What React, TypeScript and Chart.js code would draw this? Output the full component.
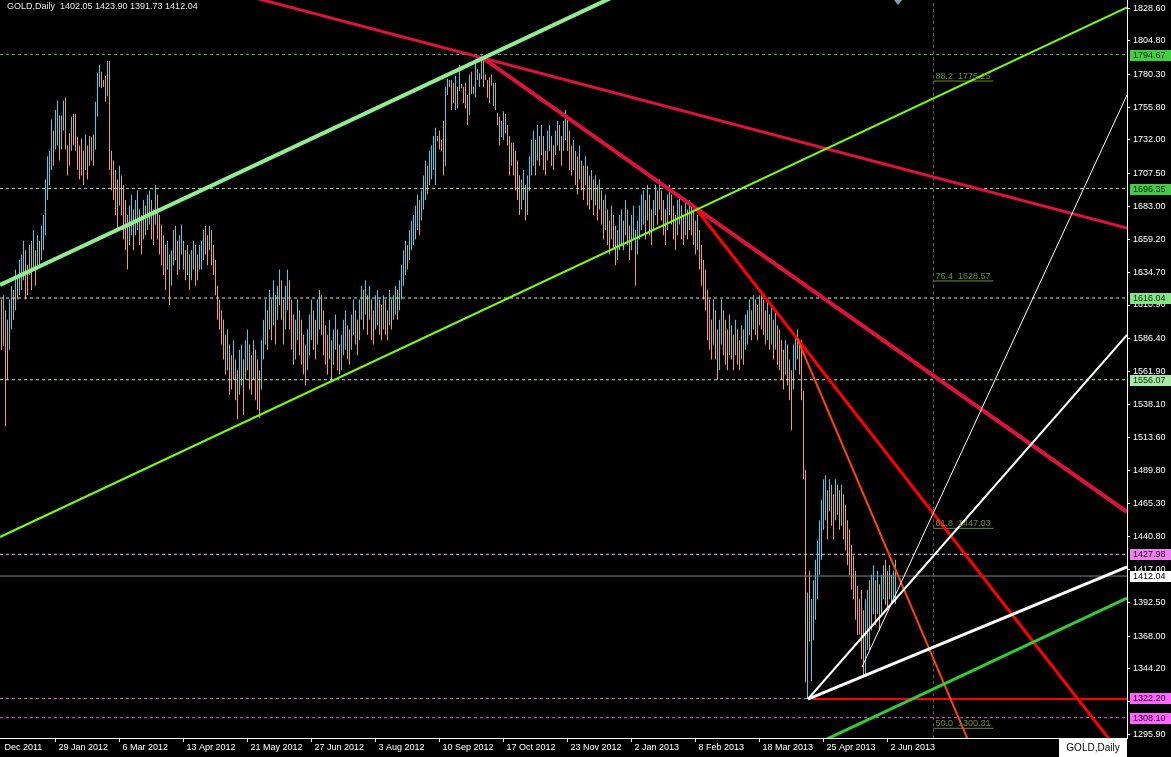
import React, { useEffect, useRef } from 'react';
import { Chart, registerables } from 'chart.js';

Chart.register(...registerables);

// ---------- DATA ----------
const symbolTitle = 'GOLD,Daily';
const lastOHLC = [1402.05, 1423.9, 1391.73, 1412.04];

// daily bar highs (one per bar, left to right)
const barHighs = [
  1615, 1618, 1607, 1600, 1615, 1625, 1622, 1637, 1633, 1644,
  1648, 1658, 1651, 1640, 1655, 1658, 1666, 1651, 1662, 1658,
  1669, 1677, 1703, 1720, 1724, 1747, 1739, 1754, 1761, 1750,
  1750, 1761, 1763, 1728, 1737, 1749, 1751, 1751, 1734, 1728,
  1733, 1724, 1736, 1728, 1735, 1734, 1736, 1760, 1781, 1787,
  1782, 1776, 1779, 1790, 1790, 1724, 1717, 1710, 1703, 1713,
  1706, 1699, 1688, 1677, 1684, 1692, 1681, 1688, 1695, 1681,
  1677, 1688, 1684, 1692, 1695, 1688, 1681, 1699, 1692, 1677,
  1670, 1662, 1655, 1658, 1648, 1651, 1666, 1669, 1658, 1662,
  1670, 1658, 1651, 1655, 1648, 1651, 1658, 1655, 1648, 1655,
  1658, 1666, 1669, 1662, 1669, 1666, 1655, 1644, 1625, 1615,
  1607, 1600, 1589, 1593, 1582, 1574, 1585, 1571, 1563, 1578,
  1582, 1571, 1585, 1593, 1582, 1574, 1585, 1578, 1571, 1563,
  1585, 1600, 1615, 1607, 1622, 1615, 1629, 1618, 1625, 1637,
  1629, 1615, 1625, 1637, 1629, 1615, 1604, 1600, 1615, 1607,
  1600, 1589, 1582, 1593, 1604, 1615, 1607, 1600, 1615, 1622,
  1618, 1607, 1596, 1589, 1600, 1585, 1593, 1604, 1593, 1582,
  1589, 1600, 1607, 1596, 1593, 1604, 1615, 1607, 1600, 1615,
  1625, 1622, 1629, 1618, 1625, 1615, 1607, 1618, 1622, 1615,
  1611, 1618, 1615, 1607, 1622, 1615, 1618, 1625, 1622, 1629,
  1640, 1651, 1658, 1655, 1666, 1673, 1677, 1684, 1692, 1688,
  1695, 1706, 1717, 1713, 1724, 1728, 1735, 1741, 1735, 1739,
  1732, 1746, 1771, 1777, 1776, 1776, 1774, 1779, 1771, 1787,
  1773, 1771, 1774, 1765, 1780, 1782, 1771, 1791, 1784, 1781,
  1794, 1791, 1780, 1776, 1778, 1780, 1774, 1774, 1752, 1749,
  1746, 1753, 1751, 1743, 1735, 1730, 1730, 1724, 1717, 1706,
  1703, 1710, 1699, 1706, 1720, 1732, 1739, 1732, 1743, 1735,
  1743, 1735, 1724, 1739, 1743, 1735, 1728, 1739, 1746, 1743,
  1735, 1746, 1754, 1750, 1739, 1728, 1732, 1724, 1720, 1728,
  1717, 1713, 1720, 1713, 1706, 1710, 1703, 1706, 1699, 1703,
  1695, 1688, 1692, 1681, 1673, 1684, 1677, 1669, 1666, 1677,
  1681, 1673, 1688, 1681, 1669, 1677, 1684, 1666, 1673, 1684,
  1692, 1695, 1688, 1699, 1692, 1681, 1688, 1699, 1695, 1703,
  1695, 1688, 1681, 1692, 1699, 1692, 1684, 1677, 1688, 1692,
  1684, 1677, 1688, 1681, 1688, 1684, 1681, 1673, 1677, 1666,
  1655, 1644, 1637, 1622, 1615, 1600, 1615, 1607, 1593, 1600,
  1615, 1607, 1600, 1593, 1604, 1596, 1589, 1600, 1593, 1585,
  1596, 1593, 1604, 1607, 1615, 1607, 1618, 1615, 1611, 1618,
  1618, 1615, 1607, 1615, 1604, 1611, 1600, 1607, 1596, 1593,
  1585, 1578, 1585, 1582, 1571, 1563, 1582, 1589, 1593, 1585,
  1585, 1548, 1490, 1400, 1416, 1395, 1409, 1424, 1438, 1453,
  1468, 1483, 1486, 1475, 1483, 1479, 1472, 1483, 1479, 1475,
  1479, 1472, 1464, 1453, 1446, 1435, 1427, 1416, 1405, 1395,
  1402, 1387, 1395, 1402, 1409, 1413, 1420, 1409, 1416, 1406,
  1413, 1420, 1424, 1416, 1420, 1413, 1416, 1423.9,
];

// daily bar lows
const barLows = [
  1578, 1581, 1522, 1556, 1578, 1593, 1600, 1607, 1615, 1618,
  1622, 1629, 1615, 1618, 1633, 1622, 1637, 1625, 1637, 1640,
  1644, 1651, 1662, 1688, 1699, 1710, 1713, 1725, 1728, 1717,
  1725, 1739, 1725, 1706, 1713, 1724, 1728, 1724, 1710, 1703,
  1706, 1699, 1710, 1703, 1713, 1717, 1713, 1725, 1749, 1771,
  1770, 1771, 1760, 1764, 1710, 1695, 1688, 1677, 1666, 1684,
  1677, 1659, 1651, 1637, 1655, 1662, 1651, 1662, 1666, 1655,
  1648, 1659, 1662, 1666, 1670, 1659, 1655, 1670, 1659, 1648,
  1640, 1633, 1622, 1637, 1611, 1625, 1640, 1644, 1633, 1637,
  1648, 1637, 1629, 1633, 1622, 1629, 1637, 1625, 1629, 1637,
  1637, 1644, 1648, 1640, 1651, 1640, 1633, 1618, 1600, 1593,
  1582, 1571, 1560, 1563, 1545, 1549, 1556, 1541, 1527, 1545,
  1552, 1530, 1556, 1563, 1549, 1545, 1556, 1541, 1534, 1528,
  1549, 1571, 1582, 1578, 1593, 1585, 1596, 1582, 1600, 1611,
  1600, 1582, 1593, 1607, 1593, 1578, 1567, 1571, 1585, 1574,
  1567, 1560, 1552, 1563, 1574, 1585, 1578, 1571, 1582, 1593,
  1589, 1574, 1567, 1560, 1571, 1556, 1567, 1578, 1563, 1560,
  1563, 1574, 1578, 1571, 1567, 1578, 1589, 1582, 1574, 1585,
  1600, 1593, 1604, 1589, 1600, 1585, 1582, 1593, 1596, 1589,
  1585, 1593, 1589, 1585, 1596, 1593, 1600, 1604, 1600, 1607,
  1615, 1625, 1633, 1637, 1644, 1651, 1655, 1659, 1666, 1662,
  1673, 1681, 1688, 1692, 1699, 1703, 1710, 1699, 1731, 1725,
  1724, 1706, 1713, 1765, 1771, 1754, 1759, 1754, 1755, 1768,
  1770, 1759, 1755, 1743, 1750, 1766, 1766, 1763, 1776, 1771,
  1777, 1771, 1776, 1763, 1759, 1772, 1757, 1754, 1743, 1728,
  1734, 1732, 1737, 1728, 1706, 1713, 1706, 1695, 1688, 1677,
  1681, 1688, 1673, 1677, 1695, 1706, 1713, 1706, 1717, 1713,
  1721, 1710, 1706, 1717, 1724, 1713, 1710, 1721, 1728, 1724,
  1713, 1724, 1732, 1724, 1710, 1706, 1710, 1699, 1692, 1703,
  1695, 1688, 1699, 1684, 1681, 1688, 1677, 1684, 1673, 1681,
  1670, 1659, 1666, 1655, 1648, 1659, 1651, 1640, 1644, 1651,
  1655, 1651, 1662, 1655, 1644, 1651, 1659, 1625, 1648, 1659,
  1666, 1670, 1659, 1673, 1662, 1655, 1666, 1677, 1670, 1681,
  1673, 1662, 1655, 1666, 1677, 1670, 1659, 1651, 1662, 1670,
  1659, 1655, 1662, 1659, 1666, 1662, 1655, 1648, 1651, 1637,
  1625, 1615, 1607, 1585, 1578, 1571, 1582, 1571, 1556, 1563,
  1582, 1574, 1567, 1563, 1574, 1571, 1563, 1574, 1567, 1563,
  1571, 1567, 1578, 1582, 1589, 1585, 1593, 1589, 1585, 1596,
  1593, 1589, 1582, 1585, 1578, 1582, 1571, 1578, 1567, 1563,
  1556, 1549, 1560, 1552, 1541, 1519, 1549, 1563, 1571, 1560,
  1541, 1483, 1334, 1321.9, 1364, 1335, 1365, 1380, 1395, 1413,
  1424, 1446, 1453, 1439, 1460, 1449, 1439, 1453, 1457, 1446,
  1449, 1439, 1431, 1420, 1413, 1402, 1395, 1380, 1369, 1369,
  1351, 1339, 1339, 1358, 1358, 1372, 1384, 1376, 1384, 1372,
  1384, 1395, 1391, 1387, 1395, 1391, 1395, 1391.73,
];

// 1 = bar closed up, 0 = bar closed down
const barUp = [
  0, 1, 0, 0, 1, 1, 0, 1, 0, 1,
  1, 1, 0, 0, 1, 0, 1, 0, 1, 0,
  1, 1, 1, 1, 1, 1, 0, 1, 1, 0,
  1, 1, 0, 0, 0, 1, 0, 0, 0, 0,
  0, 0, 1, 0, 0, 1, 0, 1, 1, 1,
  0, 0, 0, 1, 0, 0, 0, 0, 0, 1,
  0, 0, 0, 0, 1, 1, 0, 1, 1, 0,
  0, 1, 0, 1, 1, 0, 0, 1, 0, 0,
  0, 0, 0, 1, 0, 1, 1, 0, 0, 1,
  1, 0, 0, 1, 0, 1, 1, 0, 0, 1,
  1, 1, 0, 0, 1, 0, 0, 0, 0, 0,
  0, 0, 0, 1, 0, 0, 1, 0, 0, 1,
  1, 0, 1, 1, 0, 0, 1, 0, 0, 0,
  1, 1, 1, 0, 1, 0, 1, 0, 1, 1,
  0, 0, 1, 1, 0, 0, 0, 1, 1, 0,
  0, 0, 0, 1, 1, 1, 0, 0, 1, 1,
  0, 0, 0, 0, 1, 0, 1, 1, 0, 0,
  1, 1, 1, 0, 0, 1, 1, 0, 0, 1,
  1, 0, 1, 0, 1, 0, 0, 1, 1, 0,
  0, 1, 0, 0, 1, 0, 1, 1, 0, 1,
  1, 1, 1, 0, 1, 1, 1, 1, 1, 0,
  1, 1, 1, 0, 1, 1, 1, 1, 0, 0,
  0, 0, 1, 1, 1, 0, 0, 1, 0, 1,
  0, 0, 0, 0, 1, 0, 0, 1, 0, 1,
  1, 0, 0, 0, 0, 0, 1, 0, 0, 0,
  1, 1, 0, 0, 0, 1, 0, 0, 0, 0,
  1, 1, 0, 1, 1, 1, 1, 0, 1, 0,
  1, 0, 0, 1, 1, 0, 0, 1, 1, 0,
  0, 1, 1, 0, 0, 0, 1, 0, 0, 1,
  0, 0, 1, 0, 0, 1, 0, 1, 0, 1,
  0, 0, 1, 0, 0, 1, 0, 0, 1, 1,
  1, 0, 1, 0, 0, 1, 1, 0, 1, 1,
  1, 1, 0, 1, 0, 0, 1, 1, 0, 1,
  0, 0, 0, 1, 1, 0, 0, 0, 1, 1,
  0, 0, 1, 0, 1, 0, 0, 0, 1, 0,
  0, 0, 0, 0, 0, 0, 1, 0, 0, 1,
  1, 0, 0, 0, 1, 0, 0, 1, 0, 0,
  1, 0, 1, 1, 1, 0, 1, 0, 0, 1,
  0, 0, 0, 1, 0, 1, 0, 1, 0, 0,
  0, 0, 1, 0, 0, 0, 1, 1, 1, 0,
  0, 0, 0, 1, 0, 1, 1, 1, 1, 1,
  1, 1, 1, 0, 1, 0, 0, 1, 0, 0,
  1, 0, 0, 0, 0, 0, 0, 0, 0, 0,
  0, 0, 1, 1, 0, 1, 1, 0, 1, 0,
  1, 1, 0, 0, 1, 0, 1, 1,
];

// time axis: bar index of each label and its text
const xTickBars = [0, 27, 59, 91, 123, 155, 187, 219, 251, 283, 315, 347, 379, 411, 443];
const xTickLabels = [
  'Dec 2011', '29 Jan 2012', '6 Mar 2012', '13 Apr 2012', '21 May 2012', '27 Jun 2012',
  '3 Aug 2012', '10 Sep 2012', '17 Oct 2012', '23 Nov 2012', '2 Jan 2013', '8 Feb 2013',
  '18 Mar 2013', '25 Apr 2013', '2 Jun 2013',
];

// price axis labels
const yTickValues = [
  1828.6, 1804.8, 1780.3, 1755.8, 1732.0, 1707.5, 1683.0, 1659.2, 1634.7, 1610.9, 1586.4,
  1561.9, 1538.1, 1513.6, 1489.8, 1465.3, 1440.8, 1417.0, 1392.5, 1368.0, 1344.2, 1319.7, 1295.9,
];

// horizontal price levels (with axis marker boxes)
const levelPrices = [1794.67, 1696.35, 1616.04, 1556.07, 1427.98, 1412.04, 1322.2, 1308.1];

// trend lines: [bar1, price1, bar2, price2]
const trendWhiteThick = [403.25, 1321.8, 562.75, 1418.7];
const trendWhiteMid = [403.25, 1321.8, 562.75, 1589.0];
const trendWhiteThin = [430.25, 1345.3, 562.75, 1765.0];
const trendPaleGreen = [-0.75, 1625.6, 320, 1846.7];
const trendLime = [-0.75, 1440.7, 562.75, 1829.2];
const trendGreen = [400, 1283.7, 562.75, 1395.9];
const trendOrange = [397.75, 1586.7, 487.5, 1277.1];
const trendRed = [347.75, 1680.6, 560, 1280.7];
const trendCrimsonLow = [240.75, 1792.1, 562.75, 1459.0];
const trendCrimsonHigh = [100, 1846.6, 562.75, 1667.4];
const redSupport = [405.25, 1321.8, 562.75, 1321.8];

// fibonacci levels
const fiboRatios = ['88.2', '76.4', '61.8', '50.0'];
const fiboPrices = [1775.25, 1628.57, 1447.03, 1300.31];
const fiboBars = [466, 496];

const shiftMarkerBar = 448.25;

// ---------- STYLE ----------
const X_MIN = -0.75;
const X_MAX = 562.75;
const Y_MIN = 1293.2;
const Y_MAX = 1834.7;
const FONT = '"Liberation Sans", Arial, sans-serif';
const UP_COLOR = '#2ad8f5';
const DOWN_COLOR = '#f4a42c';

const levelStyles = [
  { line: '#56b848', box: '#3fcf3f', dash: [3, 3], text: '#0a2a0a' },
  { line: '#a8dca8', box: '#48c848', dash: [3, 3], text: '#0a2a0a' },
  { line: '#c0ecc0', box: '#86e486', dash: [3, 3], text: '#0a2a0a' },
  { line: '#c0ecc0', box: '#a6e8a6', dash: [3, 3], text: '#0a2a0a' },
  { line: '#f0b8f0', box: '#ee82ee', dash: [3, 3], text: '#2a002a' },
  { line: '#7a8896', box: '#ffffff', dash: [], text: '#000000' },
  { line: '#e060e0', box: '#ff66ff', dash: [3, 3], text: '#2a002a' },
  { line: '#e060e0', box: '#ff66ff', dash: [3, 3], text: '#2a002a' },
];

function seg(pts: number[], color: string, width: number, order: number, dash: number[] = []) {
  return {
    type: 'line' as const,
    data: [
      { x: pts[0], y: pts[1] },
      { x: pts[2], y: pts[3] },
    ],
    borderColor: color,
    borderWidth: width,
    borderDash: dash,
    pointRadius: 0,
    tension: 0,
    fill: false,
    order,
  };
}

const overlayPlugin = {
  id: 'mtOverlay',
  beforeDraw(chart: any) {
    const { ctx, width, height } = chart;
    ctx.save();
    ctx.fillStyle = '#000000';
    ctx.fillRect(0, 0, width, height);
    ctx.restore();
  },
  afterDatasetsDraw(chart: any) {
    const { ctx, scales } = chart;
    ctx.save();
    ctx.font = `9px ${FONT}`;
    ctx.fillStyle = '#6b8e23';
    ctx.textAlign = 'left';
    ctx.textBaseline = 'alphabetic';
    const x0 = scales.x.getPixelForValue(fiboBars[0]);
    fiboPrices.forEach((p, i) => {
      const y = scales.y.getPixelForValue(p);
      ctx.fillText(`${fiboRatios[i]}  ${p.toFixed(2)}`, x0 + 2, y - 2);
    });
    ctx.restore();
  },
  afterDraw(chart: any) {
    const { ctx, scales, chartArea, width, height } = chart;
    ctx.save();
    // price level boxes on the axis
    ctx.font = `9px ${FONT}`;
    ctx.textBaseline = 'middle';
    ctx.textAlign = 'left';
    levelPrices.forEach((p, i) => {
      const y = Math.round(scales.y.getPixelForValue(p));
      const st = levelStyles[i];
      ctx.fillStyle = st.box;
      ctx.fillRect(chartArea.right + 3, y - 5, width - chartArea.right - 3, 11);
      ctx.fillStyle = st.text;
      ctx.fillText(p.toFixed(2), chartArea.right + 6, y + 0.5);
    });
    // title
    ctx.fillStyle = '#e8e8e8';
    ctx.textBaseline = 'middle';
    ctx.fillText(`${symbolTitle}  ${lastOHLC.map((v) => v.toFixed(2)).join(' ')}`, 7, 7);
    // chart shift marker
    const mx = scales.x.getPixelForValue(shiftMarkerBar);
    ctx.fillStyle = '#8a9bb0';
    ctx.beginPath();
    ctx.moveTo(mx - 4, 0);
    ctx.lineTo(mx + 4, 0);
    ctx.lineTo(mx, 5);
    ctx.closePath();
    ctx.fill();
    // symbol box bottom right
    ctx.fillStyle = '#ffffff';
    ctx.fillRect(1059, chartArea.bottom + 1, chartArea.right - 1059, height - chartArea.bottom - 1);
    ctx.fillStyle = '#000000';
    ctx.textAlign = 'center';
    ctx.font = `10px ${FONT}`;
    ctx.fillText(symbolTitle, (1059 + chartArea.right) / 2, chartArea.bottom + 10);
    ctx.restore();
  },
};

export default function App() {
  const canvasRef = useRef<HTMLCanvasElement | null>(null);

  useEffect(() => {
    const canvas = canvasRef.current;
    if (!canvas) return;

    const bars = {
      type: 'bar' as const,
      data: barHighs.map((h, i) => ({ x: i, y: [barLows[i], h] })),
      backgroundColor: barUp.map((u) => (u ? UP_COLOR : DOWN_COLOR)),
      borderWidth: 0,
      barThickness: 1,
      inflateAmount: 0,
      order: 100,
    };

    const levelSets = levelPrices.map((p, i) =>
      seg([X_MIN, p, X_MAX, p], levelStyles[i].line, 1, 80 + i, levelStyles[i].dash)
    );

    const fiboSets = fiboPrices.map((p, i) => seg([fiboBars[0], p, fiboBars[1], p], '#6b8e23', 1, 60 + i));
    const vline = seg([fiboBars[0], Y_MIN, fiboBars[0], Y_MAX], '#5c5c5c', 1, 70, [3, 3]);

    const datasets: any[] = [
      seg(trendWhiteThick, '#ffffff', 3, 1),
      seg(trendWhiteMid, '#ffffff', 2, 2),
      seg(trendWhiteThin, '#ffffff', 1, 3),
      seg(trendPaleGreen, '#90ee90', 4, 4),
      seg(trendLime, '#7cfc00', 2, 5),
      seg(trendGreen, '#32cd32', 3, 6),
      seg(trendOrange, '#ff4500', 2, 7),
      seg(trendRed, '#ff0000', 3, 8),
      seg(trendCrimsonLow, '#dc143c', 4, 9),
      seg(trendCrimsonHigh, '#dc143c', 3, 10),
      seg(redSupport, '#ff0000', 2, 11),
      ...fiboSets,
      vline,
      ...levelSets,
      bars,
    ];

    const chart = new Chart(canvas, {
      type: 'bar',
      data: { datasets },
      options: {
        animation: false,
        responsive: false,
        devicePixelRatio: 1,
        events: [],
        layout: { padding: 0 },
        plugins: {
          legend: { display: false },
          tooltip: { enabled: false },
          title: { display: false },
        },
        scales: {
          x: {
            type: 'linear',
            position: 'bottom',
            min: X_MIN,
            max: X_MAX,
            offset: false,
            grid: {
              display: true,
              offset: false,
              drawOnChartArea: false,
              drawTicks: true,
              tickLength: 4,
              color: '#ffffff',
              tickColor: (c: any) => (c.index === 0 ? 'rgba(0,0,0,0)' : '#ffffff'),
            },
            border: { display: true, color: '#ffffff', width: 1 },
            ticks: {
              autoSkip: false,
              maxRotation: 0,
              align: 'start',
              labelOffset: 3,
              padding: 0,
              color: '#ffffff',
              font: { family: FONT, size: 9 },
              callback: (v: any) => {
                const idx = xTickBars.indexOf(Number(v));
                return idx >= 0 ? xTickLabels[idx] : '';
              },
            },
            afterBuildTicks: (s: any) => {
              s.ticks = xTickBars.map((v) => ({ value: v }));
            },
            afterFit: (s: any) => {
              s.height = 19;
              s.paddingLeft = 0;
              s.paddingRight = 0;
              s.paddingTop = 0;
              s.paddingBottom = 0;
            },
          },
          y: {
            type: 'linear',
            position: 'right',
            min: Y_MIN,
            max: Y_MAX,
            grid: {
              display: true,
              drawOnChartArea: false,
              drawTicks: true,
              tickLength: 3,
              color: '#ffffff',
            },
            border: { display: true, color: '#ffffff', width: 1 },
            ticks: {
              autoSkip: false,
              padding: 3,
              color: '#ffffff',
              font: { family: FONT, size: 9 },
              callback: (v: any) => Number(v).toFixed(2),
            },
            afterBuildTicks: (s: any) => {
              s.ticks = yTickValues.map((v) => ({ value: v }));
            },
            afterFit: (s: any) => {
              s.width = 44;
              s.paddingTop = 0;
              s.paddingBottom = 0;
              s.paddingLeft = 0;
              s.paddingRight = 0;
            },
          },
        },
      } as any,
      plugins: [overlayPlugin],
    });

    return () => chart.destroy();
  }, []);

  return (
    <div style={{ position: 'fixed', left: 0, top: 0, width: 1171, height: 757, background: '#000' }}>
      <canvas ref={canvasRef} width={1171} height={757} style={{ display: 'block' }} />
    </div>
  );
}
